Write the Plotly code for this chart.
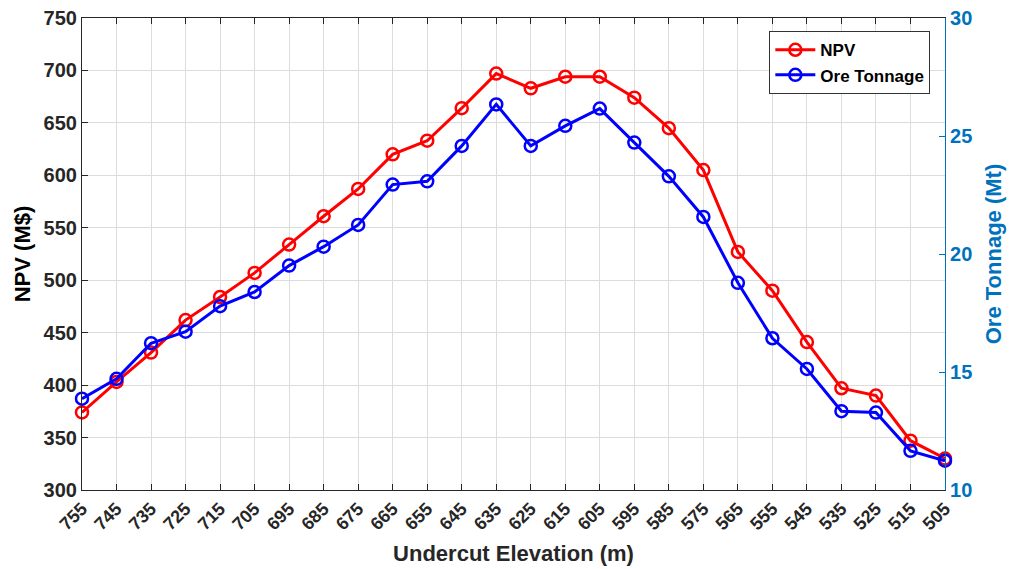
import plotly.graph_objects as go

# Undercut elevations (m), highest to lowest
elevations = ["755", "745", "735", "725", "715", "705", "695", "685", "675", "665",
              "655", "645", "635", "625", "615", "605", "595", "585", "575", "565",
              "555", "545", "535", "525", "515", "505"]

# Net present value (M$)
npv = [374, 403, 431, 462, 484, 507, 534, 561, 587, 620,
       633, 664, 697, 683, 694, 694, 674, 645, 605, 527,
       490, 441, 397, 390, 347, 330]

# Ore tonnage (Mt)
ore_tonnage = [13.87, 14.71, 16.22, 16.71, 17.79, 18.39, 19.51, 20.31, 21.23, 22.94,
               23.08, 24.58, 26.34, 24.58, 25.43, 26.16, 24.72, 23.29, 21.57, 18.78,
               16.43, 15.13, 13.34, 13.28, 11.66, 11.24]

npv_ticks = [300, 350, 400, 450, 500, 550, 600, 650, 700, 750]
tonnage_ticks = [10, 15, 20, 25, 30]

FONT = "Liberation Sans, Arial, sans-serif"
RIGHT_BLUE = "#0072BD"
AXIS_DARK = "#262626"

fig = go.Figure()

fig.add_trace(go.Scatter(
    x=elevations, y=npv, name="NPV", mode="lines+markers",
    line=dict(color="#FF0000", width=3),
    marker=dict(symbol="circle-open", size=12, color="#FF0000",
                line=dict(width=2.5, color="#FF0000")),
    cliponaxis=False, yaxis="y",
))

fig.add_trace(go.Scatter(
    x=elevations, y=ore_tonnage, name="Ore Tonnage", mode="lines+markers",
    line=dict(color="#0000FF", width=3),
    marker=dict(symbol="circle-open", size=12, color="#0000FF",
                line=dict(width=2.5, color="#0000FF")),
    cliponaxis=False, yaxis="y2",
))

fig.update_layout(
    width=1011, height=569,
    margin=dict(l=82, r=66, t=18, b=79),
    paper_bgcolor="white", plot_bgcolor="white",
    font=dict(family=FONT, size=20, color="black", weight="bold"),
    showlegend=True,
    legend=dict(
        x=0.983, y=0.972, xanchor="right", yanchor="top",
        bgcolor="white", bordercolor="#333333", borderwidth=1,
        font=dict(family=FONT, size=17, color="black", weight="bold"),
        tracegroupgap=0, itemwidth=40,
    ),
    xaxis=dict(
        type="category", categoryorder="array", categoryarray=elevations,
        range=[0, len(elevations) - 1], automargin=False,
        showline=True, linecolor=AXIS_DARK, linewidth=1.2, mirror="ticks",
        ticks="inside", ticklen=6, tickcolor=AXIS_DARK,
        showgrid=True, gridcolor="#dcdcdc", gridwidth=1,
        tickangle=-45,
        tickfont=dict(family=FONT, size=18, color=AXIS_DARK, weight="bold"),
        title=dict(text="Undercut Elevation (m)", standoff=12,
                   font=dict(family=FONT, size=22, color=AXIS_DARK, weight="bold")),
        zeroline=False,
    ),
    yaxis=dict(
        range=[300, 750], tickvals=npv_ticks, automargin=False,
        showline=True, linecolor=AXIS_DARK, linewidth=1.2,
        ticks="inside", ticklen=6, tickcolor=AXIS_DARK,
        showgrid=True, gridcolor="#dcdcdc", gridwidth=1,
        tickfont=dict(family=FONT, size=20, color=AXIS_DARK, weight="bold"),
        title=dict(text="NPV (M$)", standoff=6,
                   font=dict(family=FONT, size=22, color="black", weight="bold")),
        zeroline=False,
    ),
    yaxis2=dict(
        range=[10, 30], tickvals=tonnage_ticks, automargin=False,
        overlaying="y", side="right", anchor="x",
        showline=True, linecolor=RIGHT_BLUE, linewidth=1.2,
        ticks="inside", ticklen=6, tickcolor=RIGHT_BLUE,
        showgrid=False,
        tickfont=dict(family=FONT, size=20, color=RIGHT_BLUE, weight="bold"),
        title=dict(text="Ore Tonnage (Mt)", standoff=14,
                   font=dict(family=FONT, size=22, color=RIGHT_BLUE, weight="bold")),
        zeroline=False,
    ),
)

fig.write_html("out.html")
